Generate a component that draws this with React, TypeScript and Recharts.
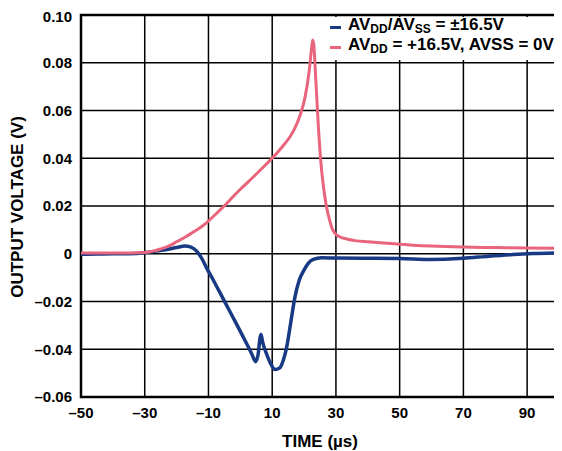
import React from 'react';
import { LineChart, Line, XAxis, YAxis, CartesianGrid, ReferenceLine, ReferenceArea, Label } from 'recharts';

const xTicks = [-50, -30, -10, 10, 30, 50, 70, 90];
const yTicks = [-0.06, -0.04, -0.02, 0, 0.02, 0.04, 0.06, 0.08, 0.1];

const blueT = [-50, -45, -40, -35, -30, -27, -23, -20, -17.4, -15.5, -13.7, -12, -10.6, -8.5, -6.4, -4.3, -2.2, 0, 2, 3.5, 4.8, 5.6, 6.2, 6.5, 7, 8.3, 9.5, 10.9, 12.4, 13.5, 14.5, 15.8, 17.1, 18.5, 19.8, 21.3, 22.9, 25.5, 30, 40, 50, 59.5, 69.9, 78, 85.6, 92, 100];
const blueV = [-0.0002, -0.0001, 0, 0, 0.0004, 0.001, 0.0018, 0.0026, 0.0032, 0.0028, 0.0011, -0.0022, -0.0059, -0.011, -0.0163, -0.0216, -0.0269, -0.0325, -0.0377, -0.0417, -0.0452, -0.042, -0.035, -0.0338, -0.037, -0.0422, -0.046, -0.0485, -0.0478, -0.0445, -0.0394, -0.029, -0.0184, -0.011, -0.0073, -0.004, -0.0024, -0.0017, -0.0018, -0.0019, -0.002, -0.0024, -0.0019, -0.001, -0.0003, 0.0001, 0.0004];

const pinkT = [-50, -45, -40, -35, -32, -30, -27, -25, -22, -20, -17, -15, -12, -10, -7, -5, -2, 0, 3, 5, 6.7, 9.8, 12.4, 14, 15.6, 17, 18.7, 20.3, 21.6, 22.2, 22.7, 23.1, 23.4, 24.5, 25.5, 26.3, 27.1, 28.1, 29, 29.7, 31, 33.4, 36, 40, 43.8, 50, 54.2, 60, 69.9, 80, 90, 100];
const pinkV = [0.0003, 0.0003, 0.0003, 0.0003, 0.0004, 0.0005, 0.0012, 0.002, 0.0035, 0.005, 0.0072, 0.0089, 0.0115, 0.0137, 0.0175, 0.0201, 0.0243, 0.027, 0.0308, 0.0334, 0.0356, 0.0398, 0.0436, 0.0462, 0.049, 0.0523, 0.0578, 0.0655, 0.0765, 0.084, 0.0895, 0.087, 0.08, 0.053, 0.035, 0.026, 0.0193, 0.0137, 0.01, 0.0085, 0.0072, 0.0062, 0.0055, 0.005, 0.0046, 0.004, 0.0036, 0.0032, 0.0028, 0.0026, 0.0024, 0.0023];

const blueData = blueT.map((t, i) => ({ t, v: blueV[i] }));
const pinkData = pinkT.map((t, i) => ({ t, v: pinkV[i] }));

const BLUE = '#183a84';
const PINK = '#e8657d';
const FONT = '"Liberation Sans", Arial, Helvetica, sans-serif';

const fmtX = (v: number) => String(v).replace('-', '\u2013');
const fmtY = (v: number) => (v === 0 ? '0' : v.toFixed(2).replace('-', '\u2013'));

const tickStyle = { fontFamily: FONT, fontSize: 15, fontWeight: 700, fill: '#000' };
const subStyle = { fontSize: 12, verticalAlign: '-3px' };

export default function App() {
  return (
    <div style={{ position: 'relative', width: 554, height: 443 }}>
      <LineChart width={554} height={443} margin={{ top: 7, right: 3, bottom: 24, left: 0 }}>
        <CartesianGrid stroke="#000" strokeWidth={1.5} />
        <XAxis
          type="number"
          dataKey="t"
          domain={[-50, 100]}
          ticks={xTicks}
          allowDataOverflow
          tickFormatter={fmtX}
          tickLine={false}
          axisLine={false}
          tickSize={0}
          tickMargin={10}
          height={30}
          tick={tickStyle}
        >
          <Label
            content={(props: any) => {
              const vb = props.viewBox || {};
              return (
                <text x={vb.x + vb.width / 2} y={439} textAnchor="middle" style={{ fontFamily: FONT, fontSize: 17, fontWeight: 700 }} fill="#000">
                  TIME (µs)
                </text>
              );
            }}
          />
        </XAxis>
        <YAxis
          type="number"
          dataKey="v"
          domain={[-0.06, 0.1]}
          ticks={yTicks}
          allowDataOverflow
          tickFormatter={fmtY}
          tickLine={false}
          axisLine={false}
          tickSize={0}
          tickMargin={9}
          width={73}
          tick={tickStyle}
        >
          <Label
            content={(props: any) => {
              const vb = props.viewBox || {};
              const cy = vb.y + vb.height / 2 + 1;
              return (
                <text x={0} y={0} transform={`translate(9.5, ${cy}) rotate(-90)`} textAnchor="middle" dominantBaseline="central" style={{ fontFamily: FONT, fontSize: 17, fontWeight: 700 }} fill="#000">
                  OUTPUT VOLTAGE (V)
                </text>
              );
            }}
          />
        </YAxis>
        <ReferenceLine x={100} stroke="#000" strokeWidth={1.5} />
        <ReferenceArea x1={-50} x2={100} y1={-0.06} y2={0.1} fill="none" stroke="#000" strokeWidth={2.5} />
        <Line data={blueData} dataKey="v" type="monotone" stroke={BLUE} strokeWidth={3.5} dot={false} isAnimationActive={false} />
        <Line data={pinkData} dataKey="v" type="monotone" stroke={PINK} strokeWidth={3} dot={false} isAnimationActive={false} />
      </LineChart>
      <div
        style={{
          position: 'absolute',
          left: 314,
          top: 9,
          width: 235,
          height: 43,
          background: '#fff',
          fontFamily: FONT,
          fontWeight: 700,
          fontSize: 17,
          color: '#000',
          lineHeight: '19px',
        }}
      >
        <div style={{ display: 'flex', alignItems: 'center', height: 20, marginTop: 0 }}>
          <span style={{ display: 'inline-block', width: 11, height: 3, background: BLUE, marginLeft: 8, marginRight: 7 }} />
          <span style={{ whiteSpace: 'nowrap' }}>
            AV<sub style={subStyle}>DD</sub>/AV<sub style={subStyle}>SS</sub> = ±16.5V
          </span>
        </div>
        <div style={{ display: 'flex', alignItems: 'center', height: 20 }}>
          <span style={{ display: 'inline-block', width: 11, height: 3, background: PINK, marginLeft: 8, marginRight: 7 }} />
          <span style={{ whiteSpace: 'nowrap' }}>
            AV<sub style={subStyle}>DD</sub> = +16.5V, AVSS = 0V
          </span>
        </div>
      </div>
    </div>
  );
}
